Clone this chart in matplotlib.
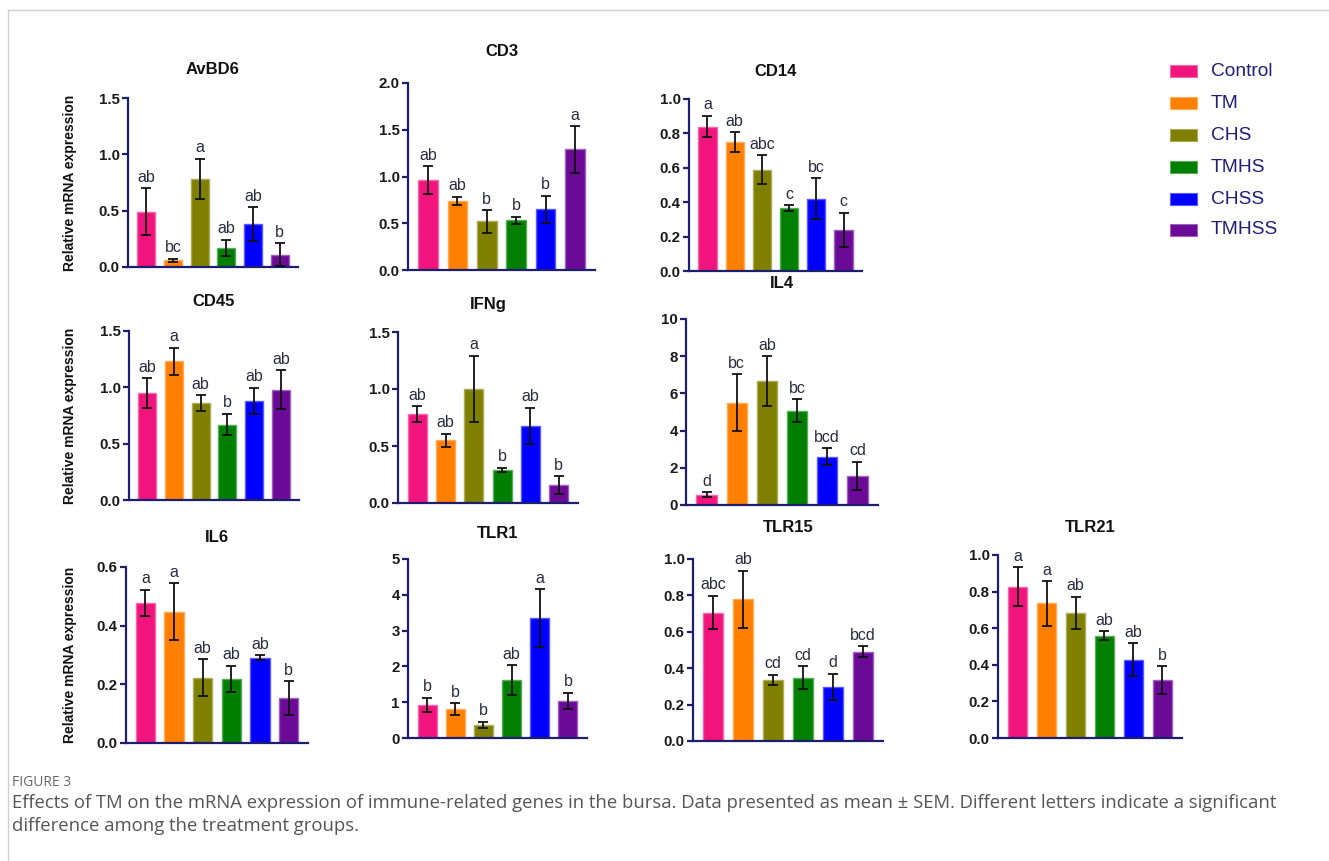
import matplotlib
matplotlib.use("Agg")
import matplotlib.pyplot as plt
from matplotlib.patches import Rectangle
from matplotlib.lines import Line2D
import matplotlib.colors as mcolors
import numpy as np

# ---------------- data ----------------
groups = ["Control", "TM", "CHS", "TMHS", "CHSS", "TMHSS"]
colors = ["#F0147C", "#FF7F00", "#7F7F00", "#007F00", "#0000FF", "#6A0A96"]

avbd6_mean = [0.49, 0.06, 0.78, 0.17, 0.38, 0.11]
avbd6_sem = [0.21, 0.015, 0.18, 0.07, 0.15, 0.10]
avbd6_letters = ["ab", "bc", "a", "ab", "ab", "b"]

cd3_mean = [0.96, 0.74, 0.52, 0.53, 0.65, 1.29]
cd3_sem = [0.15, 0.045, 0.12, 0.04, 0.145, 0.25]
cd3_letters = ["ab", "ab", "b", "b", "b", "a"]

cd14_mean = [0.84, 0.75, 0.59, 0.365, 0.42, 0.24]
cd14_sem = [0.062, 0.056, 0.082, 0.018, 0.12, 0.10]
cd14_letters = ["a", "ab", "abc", "c", "bc", "c"]

cd45_mean = [0.95, 1.23, 0.86, 0.67, 0.88, 0.98]
cd45_sem = [0.13, 0.12, 0.07, 0.095, 0.118, 0.17]
cd45_letters = ["ab", "a", "ab", "b", "ab", "ab"]

ifng_mean = [0.78, 0.55, 1.00, 0.29, 0.675, 0.155]
ifng_sem = [0.068, 0.057, 0.29, 0.02, 0.16, 0.08]
ifng_letters = ["ab", "ab", "a", "b", "ab", "b"]

il4_mean = [0.55, 5.5, 6.65, 5.08, 2.6, 1.57]
il4_sem = [0.13, 1.53, 1.35, 0.62, 0.44, 0.76]
il4_letters = ["d", "bc", "ab", "bc", "bcd", "cd"]

il6_mean = [0.478, 0.448, 0.222, 0.218, 0.291, 0.153]
il6_sem = [0.044, 0.096, 0.063, 0.045, 0.008, 0.058]
il6_letters = ["a", "a", "ab", "ab", "ab", "b"]

tlr1_mean = [0.93, 0.81, 0.37, 1.62, 3.35, 1.03]
tlr1_sem = [0.19, 0.155, 0.085, 0.41, 0.81, 0.23]
tlr1_letters = ["b", "b", "b", "ab", "a", "b"]

tlr15_mean = [0.705, 0.778, 0.336, 0.348, 0.297, 0.49]
tlr15_sem = [0.092, 0.158, 0.027, 0.062, 0.072, 0.031]
tlr15_letters = ["abc", "ab", "cd", "cd", "d", "bcd"]

tlr21_mean = [0.827, 0.736, 0.685, 0.558, 0.428, 0.318]
tlr21_sem = [0.105, 0.122, 0.087, 0.025, 0.09, 0.075]
tlr21_letters = ["a", "a", "ab", "ab", "ab", "b"]

genes = ["AvBD6", "CD3", "CD14", "CD45", "IFNg", "IL4", "IL6", "TLR1", "TLR15", "TLR21"]
means = [avbd6_mean, cd3_mean, cd14_mean, cd45_mean, ifng_mean, il4_mean,
         il6_mean, tlr1_mean, tlr15_mean, tlr21_mean]
sems = [avbd6_sem, cd3_sem, cd14_sem, cd45_sem, ifng_sem, il4_sem,
        il6_sem, tlr1_sem, tlr15_sem, tlr21_sem]
letters = [avbd6_letters, cd3_letters, cd14_letters, cd45_letters, ifng_letters,
           il4_letters, il6_letters, tlr1_letters, tlr15_letters, tlr21_letters]
yticks = [[0, 0.5, 1.0, 1.5], [0, 0.5, 1.0, 1.5, 2.0], [0, 0.2, 0.4, 0.6, 0.8, 1.0],
          [0, 0.5, 1.0, 1.5], [0, 0.5, 1.0, 1.5], [0, 2, 4, 6, 8, 10],
          [0, 0.2, 0.4, 0.6], [0, 1, 2, 3, 4, 5], [0, 0.2, 0.4, 0.6, 0.8, 1.0],
          [0, 0.2, 0.4, 0.6, 0.8, 1.0]]
ytick_fmt = ["%.1f", "%.1f", "%.1f", "%.1f", "%.1f", "%d", "%.1f", "%d", "%.1f", "%.1f"]

# ---------------- layout (pixel boxes: left, right, top, bottom; title y) ----------------
W, H = 1329, 861
boxes = [(128, 298, 98, 267), (408, 595, 83, 270), (689, 862, 99, 271),
         (129, 299, 331, 500), (398, 578, 332, 503), (686, 878, 319, 505),
         (126, 308, 567, 743), (408, 587, 559, 738), (693, 883, 559, 741),
         (998, 1182, 555, 738)]
title_y = [70, 52, 72, 302, 304, 283, 538, 533, 528, 527]
ylabel_panels = [0, 3, 6]

plt.rcParams["font.family"] = ["Liberation Sans", "DejaVu Sans"]
navy = "#1E1E6E"
fig = plt.figure(figsize=(W / 100, H / 100), dpi=100)
fig.patch.set_facecolor("white")


def lighten(c, f=0.35):
    r, g, b = mcolors.to_rgb(c)
    return (r + (1 - r) * f, g + (1 - g) * f, b + (1 - b) * f)


x = np.arange(len(groups))
for i, gene in enumerate(genes):
    l, r, t, b = boxes[i]
    ax = fig.add_axes([l / W, 1 - b / H, (r - l) / W, (b - t) / H])
    ax.bar(x, means[i], width=0.67, color=colors,
           edgecolor=[lighten(c) for c in colors], linewidth=1.0, zorder=2)
    ax.errorbar(x, means[i], yerr=sems[i], fmt="none", ecolor="#111111",
                elinewidth=1.3, capsize=3.6, capthick=1.3, zorder=3)
    for xi, m, s, lt in zip(x, means[i], sems[i], letters[i]):
        ax.annotate(lt, (xi, m + s), xytext=(0, 2.5), textcoords="offset points",
                    ha="center", va="bottom", fontsize=11.5, color="#2a2a40")
    yt = yticks[i]
    ax.set_ylim(0, yt[-1])
    ax.set_yticks(yt)
    ax.set_yticklabels([ytick_fmt[i] % v for v in yt], fontsize=10.8,
                       fontweight="bold", color="#1a1a1a")
    ax.set_xlim(-0.68, 5.68)
    ax.set_xticks([])
    for s in ["top", "right"]:
        ax.spines[s].set_visible(False)
    for s in ["left", "bottom"]:
        ax.spines[s].set_color(navy)
        ax.spines[s].set_linewidth(1.6)
    ax.tick_params(axis="y", direction="out", length=4, width=1.6, color=navy, pad=2)
    ax.patch.set_alpha(0)
    fig.text((l + r) / 2 / W, 1 - title_y[i] / H, gene, ha="center", va="center",
             fontsize=12, fontweight="bold", color="#111111")
    if i in ylabel_panels:
        fig.text(70 / W, 1 - (t + b) / 2 / H, "Relative mRNA expression",
                 rotation=90, ha="center", va="center", fontsize=10,
                 fontweight="bold", color="#111111")

# ---------------- legend ----------------
leg_y = [71, 103, 135, 167, 199, 230]
for c, g, yy in zip(colors, groups, leg_y):
    fig.add_artist(Rectangle((1170 / W, 1 - (yy + 6) / H), 27 / W, 12 / H,
                             transform=fig.transFigure, facecolor=c,
                             edgecolor=lighten(c), linewidth=0.8))
    fig.text(1211 / W, 1 - yy / H, g, ha="left", va="center", fontsize=13.8,
             color="#1E1E78")

# ---------------- frame and caption ----------------
fig.add_artist(Line2D([8 / W, 8 / W], [0, 1 - 10 / H], transform=fig.transFigure,
                      color="#cfcfcf", linewidth=1))
fig.add_artist(Line2D([8 / W, 1], [1 - 10 / H, 1 - 10 / H], transform=fig.transFigure,
                      color="#cfcfcf", linewidth=1))

cap_font = ["Open Sans", "DejaVu Sans"]
fig.text(12 / W, 1 - 782 / H, "FIGURE 3", ha="left", va="center", fontsize=10,
         color="#666666", family=cap_font)
fig.text(12 / W, 1 - 803 / H,
         "Effects of TM on the mRNA expression of immune-related genes in the bursa. "
         "Data presented as mean \u00b1 SEM. Different letters indicate a significant",
         ha="left", va="center", fontsize=13.3, color="#555555", family=cap_font)
fig.text(12 / W, 1 - 826 / H, "difference among the treatment groups.",
         ha="left", va="center", fontsize=13.3, color="#555555", family=cap_font)

fig.savefig("out.png", dpi=100)
